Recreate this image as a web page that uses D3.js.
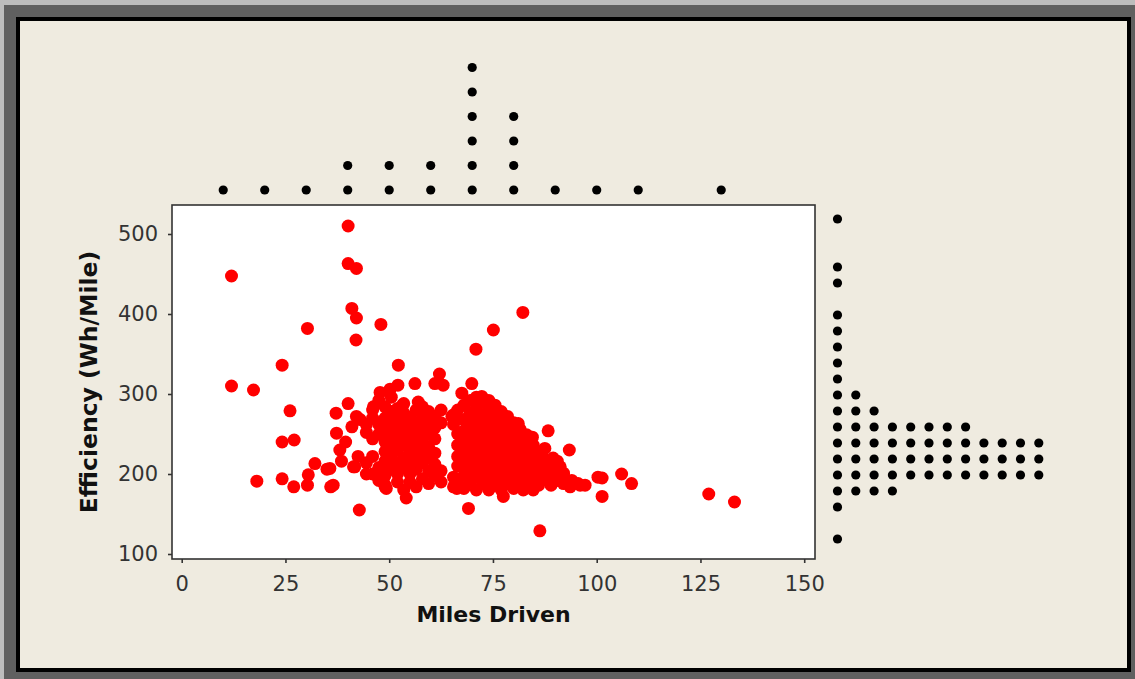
<!DOCTYPE html>
<html>
<head>
<meta charset="utf-8">
<script src="https://cdn.jsdelivr.net/npm/d3@7"></script>
<style>
  html, body { margin: 0; padding: 0; background: #efebe0; }
  svg { display: block; }
</style>
</head>
<body>
<div id="chart"></div>
<script>
// Scatter data: [miles driven, efficiency in Wh/mile]
const scatterPoints = [
  // outliers and edge points
  [40.1, 510], [40.1, 463], [42.1, 457], [12.0, 447.5], [41.0, 407], [42.1, 395],
  [30.3, 382], [48.0, 387], [42.0, 367.5], [24.2, 336], [52.2, 336], [12.0, 310],
  [17.3, 305], [40.1, 288], [26.1, 279], [46.2, 284], [37.2, 276], [47.8, 302],
  [50.2, 306], [24.2, 240], [27.1, 242.5], [18.1, 191], [24.2, 194], [27.0, 184],
  [30.3, 186], [32.1, 213], [30.5, 199], [35.0, 206], [35.9, 184], [42.8, 155],
  [37.3, 251], [38.1, 230], [41.4, 209], [41.0, 259], [42.1, 272], [49.0, 184],
  [82.2, 402], [75.1, 380], [70.9, 356], [62.1, 325], [63.0, 311], [61.0, 313],
  [56.2, 313], [52.1, 311], [69.9, 313], [67.5, 301], [72.3, 297], [57.0, 290],
  [53.2, 286], [59.4, 276], [65.1, 272], [81.1, 263], [83.1, 249], [84.7, 236],
  [69.1, 157], [54.1, 170], [49.3, 182], [66.3, 182], [77.5, 172], [86.3, 129],
  [88.3, 254], [93.4, 230], [100.3, 196], [101.3, 195], [106.0, 200], [108.4, 188],
  [101.3, 172], [127.0, 175], [133.2, 165], [96.0, 186], [93.6, 184], [97.2, 186],
  [91.2, 209], [89.5, 220], [84.7, 180], [82.3, 180], [92.0, 201], [35.7, 207],
  [36.5, 186], [41.7, 209], [39.5, 240], [42.5, 222], [44.5, 200], [43.0, 268],
  [38.5, 216],
  // left part of the main cluster
  [44.5, 214], [44.5, 252], [44.5, 262],
  [46.0, 200], [46.0, 222], [46.0, 244], [46.0, 270], [46.0, 280],
  [47.5, 192], [47.5, 208], [47.5, 250], [47.5, 262], [47.5, 292],
  [49.0, 186], [49.0, 198], [49.0, 216], [49.0, 228], [49.0, 240], [49.0, 256], [49.0, 270], [49.0, 284],
  [50.5, 206], [50.5, 222], [50.5, 236], [50.5, 248], [50.5, 264], [50.5, 278], [50.5, 296],
  [52.0, 190], [52.0, 200], [52.0, 214], [52.0, 230], [52.0, 242], [52.0, 256], [52.0, 270], [52.0, 282],
  [53.5, 180], [53.5, 208], [53.5, 220], [53.5, 236], [53.5, 250], [53.5, 262], [53.5, 276], [53.5, 288],
  [55.0, 190], [55.0, 200], [55.0, 214], [55.0, 228], [55.0, 244], [55.0, 256], [55.0, 270],
  [56.5, 184], [56.5, 206], [56.5, 222], [56.5, 236], [56.5, 250], [56.5, 264], [56.5, 280],
  [58.0, 194], [58.0, 214], [58.0, 228], [58.0, 242], [58.0, 258], [58.0, 270], [58.0, 284],
  [59.5, 188], [59.5, 204], [59.5, 220], [59.5, 234], [59.5, 250], [59.5, 264], [59.5, 278],
  [61.0, 198], [61.0, 212], [61.0, 226], [61.0, 244], [61.0, 258], [61.0, 272],
  [62.5, 190], [62.5, 204], [62.5, 264], [62.5, 280],
  // right part of the main cluster
  [65.5, 184], [65.5, 196], [65.5, 262], [65.5, 274],
  [66.5, 188], [66.5, 210], [66.5, 222], [66.5, 236], [66.5, 250], [66.5, 280],
  [68.0, 182], [68.0, 198], [68.0, 212], [68.0, 226], [68.0, 240], [68.0, 254], [68.0, 268], [68.0, 286],
  [69.5, 190], [69.5, 206], [69.5, 220], [69.5, 234], [69.5, 246], [69.5, 260], [69.5, 276], [69.5, 292],
  [71.0, 180], [71.0, 196], [71.0, 212], [71.0, 226], [71.0, 240], [71.0, 254], [71.0, 268], [71.0, 282], [71.0, 296],
  [72.5, 188], [72.5, 204], [72.5, 218], [72.5, 232], [72.5, 246], [72.5, 260], [72.5, 274], [72.5, 290],
  [74.0, 180], [74.0, 196], [74.0, 210], [74.0, 224], [74.0, 238], [74.0, 252], [74.0, 266], [74.0, 282], [74.0, 292],
  [75.5, 188], [75.5, 202], [75.5, 216], [75.5, 232], [75.5, 246], [75.5, 260], [75.5, 274], [75.5, 286],
  [77.0, 180], [77.0, 194], [77.0, 210], [77.0, 224], [77.0, 238], [77.0, 252], [77.0, 266], [77.0, 278],
  [78.5, 188], [78.5, 202], [78.5, 216], [78.5, 230], [78.5, 244], [78.5, 258], [78.5, 272],
  [80.0, 182], [80.0, 196], [80.0, 210], [80.0, 224], [80.0, 238], [80.0, 250], [80.0, 264],
  [81.5, 190], [81.5, 204], [81.5, 218], [81.5, 232], [81.5, 246], [81.5, 256],
  [83.0, 184], [83.0, 198], [83.0, 212], [83.0, 226], [83.0, 240],
  [84.5, 192], [84.5, 206], [84.5, 220], [84.5, 232], [84.5, 246],
  [86.0, 186], [86.0, 198], [86.0, 212], [86.0, 226],
  [87.5, 194], [87.5, 206], [87.5, 218], [87.5, 232],
  [89.0, 186], [89.0, 200], [89.0, 212],
  [90.5, 192], [90.5, 204], [90.5, 216],
  [92.0, 188], [92.0, 198], [94.0, 192], [95.5, 188]
];

// Marginal dotplot of miles driven (bin centre, dots stacked)
const milesBins = [10, 20, 30, 40, 50, 60, 70, 80, 90, 100, 110, 130];
const milesDots = [1, 1, 1, 2, 2, 2, 6, 4, 1, 1, 1, 1];

// Marginal dotplot of efficiency
const effBins = [120, 160, 180, 200, 220, 240, 260, 280, 300, 320, 340, 360, 380, 400, 440, 460, 520];
const effDots = [1, 1, 4, 12, 12, 12, 8, 3, 2, 1, 1, 1, 1, 1, 1, 1, 1];

const xTicks = [0, 25, 50, 75, 100, 125, 150];
const yTicks = [100, 200, 300, 400, 500];

const width = 1135;
const height = 679;
const font = "'DejaVu Sans', Verdana, sans-serif";

const box = { left: 172, right: 815, top: 205, bottom: 559 };

const svg = d3
  .select("#chart")
  .append("svg")
  .attr("width", width)
  .attr("height", height);

// Window-like frame
svg.append("rect").attr("width", width).attr("height", height).attr("fill", "#606060");
svg.append("rect").attr("width", width).attr("height", 5).attr("fill", "#bdbdbd");
svg.append("rect").attr("width", 4).attr("height", height).attr("fill", "#bdbdbd");
svg.append("rect")
  .attr("x", 16).attr("y", 17)
  .attr("width", 1115).attr("height", 655)
  .attr("fill", "#000");
svg.append("rect")
  .attr("x", 20).attr("y", 21)
  .attr("width", 1107).attr("height", 647)
  .attr("fill", "#efebe0");

const x = d3.scaleLinear().domain([-2.34, 152.6]).range([box.left, box.right]);
const y = d3.scaleLinear().domain([93.75, 536.25]).range([box.bottom, box.top]);

// Plot area
svg.append("rect")
  .attr("x", box.left)
  .attr("y", box.top)
  .attr("width", box.right - box.left)
  .attr("height", box.bottom - box.top)
  .attr("fill", "#fff")
  .attr("stroke", "#333")
  .attr("stroke-width", 1.6);

// Axes
const xAxis = svg.append("g")
  .attr("transform", `translate(0,${box.bottom})`)
  .call(d3.axisBottom(x).tickValues(xTicks).tickSize(4).tickSizeOuter(0).tickPadding(13));

const yAxis = svg.append("g")
  .attr("transform", `translate(${box.left},0)`)
  .call(d3.axisLeft(y).tickValues(yTicks).tickSize(4).tickSizeOuter(0).tickPadding(10));

[xAxis, yAxis].forEach((g) => {
  g.select(".domain").remove();
  g.selectAll(".tick line").attr("stroke", "#333").attr("stroke-width", 1.6);
  g.selectAll(".tick text")
    .attr("fill", "#333")
    .style("font-family", font)
    .style("font-size", "21px");
});

// Axis titles
svg.append("text")
  .attr("x", (box.left + box.right) / 2)
  .attr("y", 622)
  .attr("text-anchor", "middle")
  .style("font-family", font)
  .style("font-size", "22px")
  .style("font-weight", "bold")
  .attr("fill", "#111")
  .text("Miles Driven");

svg.append("text")
  .attr("transform", `translate(97,${(box.top + box.bottom) / 2}) rotate(-90)`)
  .attr("text-anchor", "middle")
  .style("font-family", font)
  .style("font-size", "23.5px")
  .style("font-weight", "bold")
  .attr("fill", "#111")
  .text("Efficiency (Wh/Mile)");

// Scatter points
svg.append("g")
  .selectAll("circle")
  .data(scatterPoints)
  .enter()
  .append("circle")
  .attr("cx", (d) => x(d[0]))
  .attr("cy", (d) => y(d[1]))
  .attr("r", 6.5)
  .attr("fill", "#ff0000");

// Top marginal dotplot
const topDots = milesBins.flatMap((b, i) => d3.range(milesDots[i]).map((k) => ({ bin: b, k })));
svg.append("g")
  .selectAll("circle")
  .data(topDots)
  .enter()
  .append("circle")
  .attr("cx", (d) => x(d.bin))
  .attr("cy", (d) => 190 - d.k * 24.5)
  .attr("r", 4.6)
  .attr("fill", "#000");

// Right marginal dotplot
const sideDots = effBins.flatMap((b, i) => d3.range(effDots[i]).map((k) => ({ bin: b, k })));
svg.append("g")
  .selectAll("circle")
  .data(sideDots)
  .enter()
  .append("circle")
  .attr("cx", (d) => 837.5 + d.k * 18.3)
  .attr("cy", (d) => y(d.bin) + 1)
  .attr("r", 4.6)
  .attr("fill", "#000");
</script>
</body>
</html>
